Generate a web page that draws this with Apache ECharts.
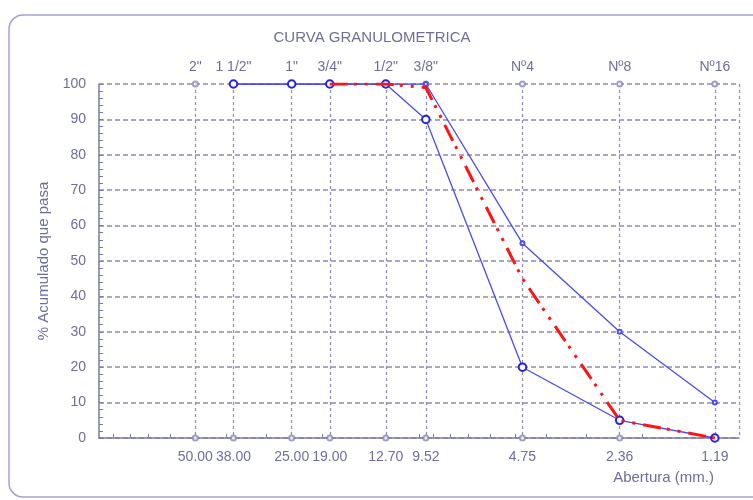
<!DOCTYPE html>
<html><head><meta charset="utf-8">
<script src="https://cdn.jsdelivr.net/npm/echarts@6/dist/echarts.min.js"></script>
<style>html,body{margin:0;padding:0;background:#fff}#c{width:753px;height:500px}</style>
</head><body><div id="c"></div>
<script>
const sieveSizes = [50, 38, 25, 19, 12.7, 9.52, 4.75, 2.36, 1.19];
const sieveNames = ['2"', '1 1/2"', '1"', '3/4"', '1/2"', '3/8"', 'Nº4', 'Nº8', 'Nº16'];
const upperLimit = [null, 100, 100, 100, 100, 100, 55, 30, 10];
const lowerLimit = [null, 100, 100, 100, 100, 90, 20, 5, 0];
const sampleCurve = [null, null, null, 100, 100, 99, 45, 5, 0];
const minorTickSizes = [90, 80, 70, 60, 40, 30, 20, 10, 9, 8, 7, 6, 5, 4, 3, 2];

const TXT = '#6e6e9e';
const GRID = '#8c8cb2';
const BLUE = '#4b4bf2';
const FONT = '"Liberation Sans", Arial, sans-serif';

function pairs(vals) {
  const out = [];
  sieveSizes.forEach((s, i) => { if (vals[i] != null) out.push([s, vals[i]]); });
  return out;
}
function nameOf(v) {
  const i = sieveSizes.findIndex(s => Math.abs(s - v) < 1e-6);
  return i >= 0 ? sieveNames[i] : '';
}
const gridMarks = sieveSizes.map(s => [s, 100]).concat(sieveSizes.map(s => [s, 0]));

const chart = echarts.init(document.getElementById('c'), null, {renderer: 'canvas'});
chart.setOption({
  backgroundColor: '#ffffff',
  animation: false,
  textStyle: {fontFamily: FONT},
  title: {
    text: 'CURVA GRANULOMETRICA', left: 367, textAlign: 'center', top: 25,
    textStyle: {color: TXT, fontSize: 15, fontWeight: 'normal', fontFamily: FONT}
  },
  graphic: [{
    type: 'rect', shape: {x: 9, y: 15, width: 800, height: 482, r: 14},
    style: {fill: null, stroke: '#a2a2d8', lineWidth: 1.5}, z: -1, silent: true
  }],
  grid: {left: 99, right: 14, top: 84, bottom: 62},
  xAxis: [{
    type: 'log', logBase: 10, min: 1, max: 100, inverse: true, position: 'bottom',
    name: 'Abertura (mm.)', nameLocation: 'start', nameGap: -25,
    nameTextStyle: {color: TXT, fontSize: 15, align: 'right', verticalAlign: 'top', padding: [32, 0, 0, 0]},
    axisLine: {show: true, lineStyle: {color: '#7a7aa8', width: 1.5}},
    axisTick: {show: true, inside: true, length: 4, customValues: minorTickSizes, lineStyle: {color: '#7a7aa8'}},
    axisLabel: {customValues: sieveSizes, color: TXT, fontSize: 14, margin: 12,
      formatter: v => Number(v).toFixed(2)},
    splitLine: {show: false}
  }, {
    type: 'log', logBase: 10, min: 1, max: 100, inverse: true, position: 'top',
    axisLine: {show: false},
    axisTick: {show: false, customValues: sieveSizes.concat([1])},
    axisLabel: {customValues: sieveSizes, color: TXT, fontSize: 14, margin: 10,
      formatter: v => nameOf(v)},
    splitLine: {show: true, lineStyle: {color: GRID, type: [3, 3], width: 1.2}}
  }],
  yAxis: {
    type: 'value', min: 0, max: 100, interval: 10,
    name: '% Acumulado que pasa', nameLocation: 'middle', nameGap: 48, nameRotate: 90,
    nameTextStyle: {color: TXT, fontSize: 15},
    axisLine: {show: true, lineStyle: {color: '#7a7aa8', width: 1.5}},
    axisTick: {show: true, inside: true, length: 4, lineStyle: {color: '#7a7aa8'}},
    minorTick: {show: true, splitNumber: 5, length: 4, lineStyle: {color: '#7a7aa8'}},
    axisLabel: {color: TXT, fontSize: 14, margin: 13},
    splitLine: {show: true, lineStyle: {color: GRID, type: [5, 3], width: 1.5}}
  },
  series: [{
    type: 'scatter', xAxisIndex: 0, data: gridMarks, symbol: 'emptyCircle', symbolSize: 5,
    itemStyle: {color: '#8a8ab0', borderWidth: 1}, z: 1, silent: true
  }, {
    name: 'Límite superior', type: 'line', xAxisIndex: 0, data: pairs(upperLimit),
    symbol: 'emptyCircle', symbolSize: 4,
    lineStyle: {color: BLUE, width: 1.3}, itemStyle: {color: BLUE, borderWidth: 1.2}, z: 3
  }, {
    name: 'Límite inferior', type: 'line', xAxisIndex: 0, data: pairs(lowerLimit),
    symbol: 'emptyCircle', symbolSize: 7.5,
    lineStyle: {color: BLUE, width: 1.3}, itemStyle: {color: '#2424e0', borderWidth: 2.5}, z: 4
  }, {
    name: 'Muestra', type: 'line', xAxisIndex: 0, data: pairs(sampleCurve),
    symbol: 'none',
    lineStyle: {color: '#ff1414', width: 3, type: [18, 6, 3, 8, 3, 8]}, z: 5
  }]
});
</script></body></html>
